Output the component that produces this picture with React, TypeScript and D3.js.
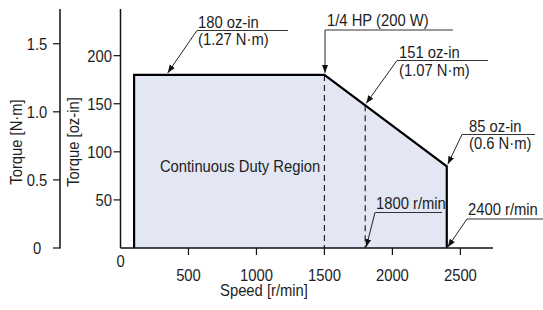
import React from 'react';
import * as d3 from 'd3';

// chart data
const speedTicks = [500, 1000, 1500, 2000, 2500];
const ozTicks = [50, 100, 150, 200];
const nmTicks = [0, 0.5, 1.0, 1.5];
const nmTickLabels = ['0', '0.5', '1.0', '1.5'];
const boundarySpeed = [100, 100, 1500, 2400, 2400];
const boundaryTorque = [0, 180, 180, 85, 0];
const dashedSpeeds = [1500, 1800];
const OZ_PER_NM = 141.6;

// annotations: text lines + point they point to (speed, torque)
const noteLines = [
  ['180 oz-in', '(1.27 N·m)'],
  ['1/4 HP (200 W)'],
  ['151 oz-in', '(1.07 N·m)'],
  ['85 oz-in', '(0.6 N·m)'],
  ['1800 r/min'],
  ['2400 r/min'],
];
const noteSpeed = [340, 1500, 1800, 2400, 1800, 2400];
const noteTorque = [180, 180, null, 85, 0, 0];

const W = 543;
const H = 310;
const FONT = '"Liberation Sans", Arial, sans-serif';
const FS = 17;
const SX = 0.87; // condensed look

// label placement (pixels): text left, first baseline, line gap, underline x0/x1/y
const noteLayout = [
  { tx: 198, ty: 28, gap: 17, ux0: 197, ux1: 288, uy: 30.5 },
  { tx: 327, ty: 25.5, gap: 17, ux0: 325, ux1: 453, uy: 30 },
  { tx: 399, ty: 57.5, gap: 18, ux0: 397, ux1: 488, uy: 60.5 },
  { tx: 469, ty: 131.5, gap: 17, ux0: 462, ux1: 535, uy: 134.5 },
  { tx: 376, ty: 208.5, gap: 17, ux0: 375, ux1: 442, uy: 212.5 },
  { tx: 468, ty: 215, gap: 17, ux0: 467, ux1: 543, uy: 219 },
];

const Txt = ({ x, y, anchor = 'start', rotate = 0, children }: any) => (
  <text
    transform={`translate(${x},${y}) rotate(${rotate}) scale(${SX},1)`}
    textAnchor={anchor}
    fill="#1e1e1e"
  >
    {children}
  </text>
);

export default function App() {
  const x = d3.scaleLinear().domain([0, 2740]).range([120.5, 493]);
  const y = d3.scaleLinear().domain([0, 248]).range([248, 9.5]);
  const yNm = (v: number) => y(v * OZ_PER_NM);
  const slope = d3.scaleLinear().domain([1500, 2400]).range([180, 85]);

  const pts = boundarySpeed.map((s, i) => [s, boundaryTorque[i]] as [number, number]);
  const area = d3
    .area<[number, number]>()
    .x(d => x(d[0]))
    .y0(y(0))
    .y1(d => y(d[1]));
  const line = d3
    .line<[number, number]>()
    .x(d => x(d[0]))
    .y(d => y(d[1]));

  const axisColor = '#111';

  return (
    <svg
      width={W}
      height={H}
      style={{ position: 'absolute', left: 0, top: 0, background: '#fff' }}
      fontFamily={FONT}
      fontSize={FS}
    >
      <defs>
        <marker
          id="arr"
          viewBox="0 0 10 10"
          refX={10}
          refY={5}
          markerWidth={8}
          markerHeight={8}
          markerUnits="userSpaceOnUse"
          orient="auto"
        >
          <path d="M0,1.2 L10,5 L0,8.8 z" fill="#111" />
        </marker>
      </defs>

      {/* region */}
      <path d={area(pts) || ''} fill="#e2e7f3" />

      {/* dashed speed lines */}
      {dashedSpeeds.map(s => (
        <line
          key={s}
          x1={x(s)}
          x2={x(s)}
          y1={y(s === 1500 ? 180 : slope(s))}
          y2={y(0)}
          stroke="#222"
          strokeWidth={1.2}
          strokeDasharray="6,4"
        />
      ))}

      <path d={line(pts) || ''} fill="none" stroke="#000" strokeWidth={2.2} />

      {/* N·m axis */}
      <line x1={60} x2={60} y1={9} y2={yNm(0) + 0.5} stroke={axisColor} strokeWidth={1.5} />
      {nmTicks.map((t, i) => (
        <g key={t}>
          <line x1={53} x2={60} y1={yNm(t)} y2={yNm(t)} stroke={axisColor} strokeWidth={1.2} />
          <Txt x={37} y={yNm(t) + 6} anchor="middle">
            {nmTickLabels[i]}
          </Txt>
        </g>
      ))}
      <Txt x={22} y={142} anchor="middle" rotate={-90}>
        Torque [N·m]
      </Txt>

      {/* oz-in axis */}
      <line x1={x(0)} x2={x(0)} y1={9} y2={y(0)} stroke={axisColor} strokeWidth={1.5} />
      {ozTicks.map(t => (
        <g key={t}>
          <line x1={x(0) - 7} x2={x(0)} y1={y(t)} y2={y(t)} stroke={axisColor} strokeWidth={1.2} />
          <Txt x={x(0) - 8.5} y={y(t) + 6} anchor="end">
            {t}
          </Txt>
        </g>
      ))}
      <Txt x={79} y={142} anchor="middle" rotate={-90}>
        Torque [oz-in]
      </Txt>

      {/* speed axis */}
      <line x1={x(0)} x2={x(2740)} y1={y(0)} y2={y(0)} stroke={axisColor} strokeWidth={1.5} />
      {speedTicks.map(t => (
        <g key={t}>
          <line x1={x(t)} x2={x(t)} y1={y(0)} y2={y(0) + 7} stroke={axisColor} strokeWidth={1.2} />
          <Txt x={x(t)} y={y(0) + 33} anchor="middle">
            {t}
          </Txt>
        </g>
      ))}
      <Txt x={x(0)} y={y(0) + 19} anchor="middle">
        0
      </Txt>
      <Txt x={264} y={296} anchor="middle">
        Speed [r/min]
      </Txt>

      <Txt x={240} y={171.5} anchor="middle">
        Continuous Duty Region
      </Txt>

      {/* annotations */}
      {noteLines.map((lines, i) => {
        const L = noteLayout[i];
        const s = noteSpeed[i];
        const tq = noteTorque[i] ?? slope(s);
        const px = x(s) + 1;
        const py = y(tq) - (tq > 0 ? 2 : 1);
        return (
          <g key={i}>
            {lines.map((ln, j) => (
              <Txt key={j} x={L.tx} y={L.ty + j * L.gap}>
                {ln}
              </Txt>
            ))}
            <line x1={L.ux0} x2={L.ux1} y1={L.uy} y2={L.uy} stroke="#333" strokeWidth={1} />
            <line
              x1={L.ux0}
              y1={L.uy}
              x2={i === 1 ? L.ux0 : px}
              y2={py}
              stroke="#222"
              strokeWidth={1}
              markerEnd="url(#arr)"
            />
          </g>
        );
      })}
    </svg>
  );
}
